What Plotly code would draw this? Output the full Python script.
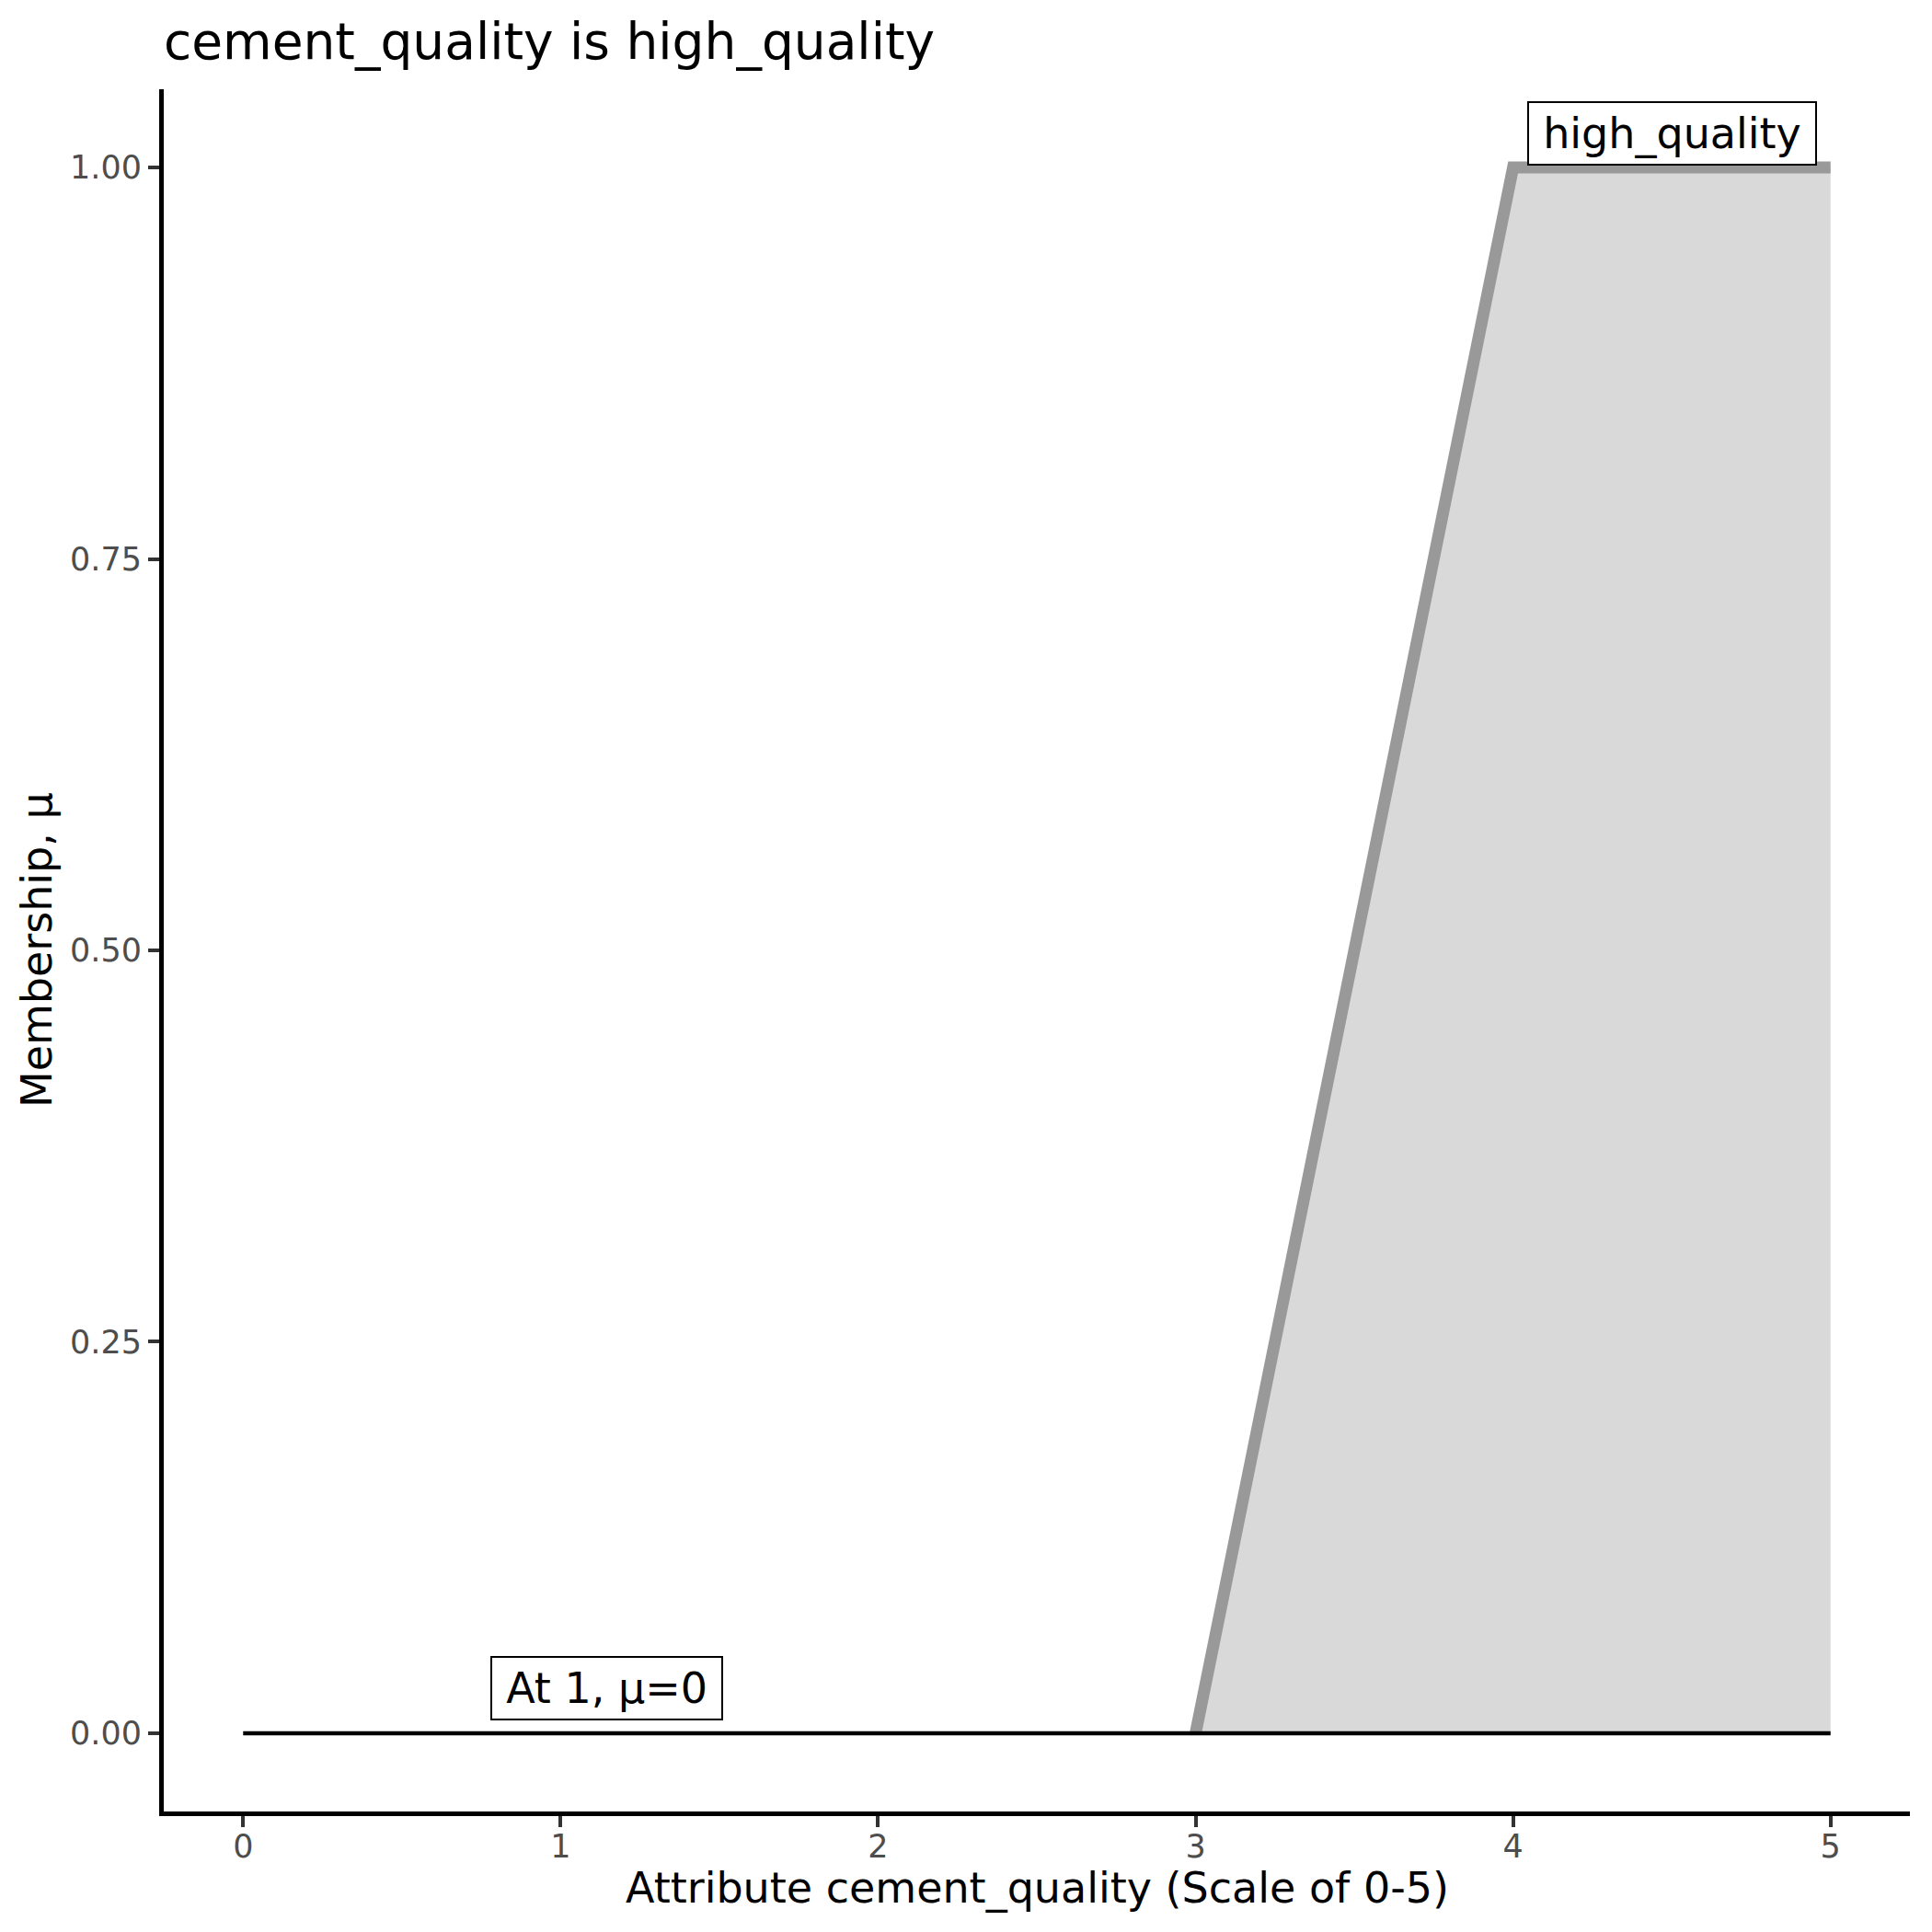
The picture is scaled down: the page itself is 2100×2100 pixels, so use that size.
import plotly.graph_objects as go

# ---- data ----
mf_x = [3, 4, 5]          # high_quality membership function breakpoints
mf_mu = [0, 1, 1]
fill_x = [3, 4, 5, 5]
fill_mu = [0, 1, 1, 0]
base_x = [0, 5]           # evaluated membership at the input (mu = 0)
base_mu = [0, 0]
x_ticks = [0, 1, 2, 3, 4, 5]
y_ticks = [0, 0.25, 0.5, 0.75, 1.0]
y_ticklabels = ["0.00", "0.25", "0.50", "0.75", "1.00"]
label_texts = ["high_quality", "At 1, μ=0"]
label_x = [4.5, 1.146]
label_y = [1.022, 0.029]

FONT = "DejaVu Sans"
TS = "\u2009"

fig = go.Figure()
fig.add_trace(go.Scatter(x=fill_x, y=fill_mu, fill="toself", fillcolor="#D9D9D9",
                         mode="lines", line=dict(width=0), hoverinfo="skip", showlegend=False))
fig.add_trace(go.Scatter(x=mf_x, y=mf_mu, mode="lines",
                         line=dict(color="#999999", width=13), showlegend=False))
fig.add_trace(go.Scatter(x=base_x, y=base_mu, mode="lines",
                         line=dict(color="black", width=4.5), showlegend=False))

for t, xx, yy in zip(label_texts, label_x, label_y):
    fig.add_annotation(x=xx, y=yy, text=TS + t + TS, showarrow=False, xanchor="center",
                       yanchor="middle", font=dict(family=FONT, size=46, color="black"),
                       bgcolor="white", bordercolor="black", borderwidth=2, borderpad=6)

# axis titles as annotations for precise placement
fig.add_annotation(x=0.5, xref="paper", y=-0.0445, yref="paper", showarrow=False,
                   text="Attribute cement_quality (Scale of 0-5)", xanchor="center", yanchor="middle",
                   font=dict(family=FONT, size=46, color="black"))
fig.add_annotation(x=-0.0727, xref="paper", y=0.5, yref="paper", showarrow=False,
                   text="Membership, μ", textangle=-90, xanchor="center", yanchor="middle",
                   font=dict(family=FONT, size=46, color="black"))

fig.update_layout(
    width=2100, height=2100, autosize=False,
    margin=dict(l=170, r=32, t=89, b=139),
    paper_bgcolor="white", plot_bgcolor="white",
    font=dict(family=FONT, color="black"),
    title=dict(text="cement_quality is high_quality", x=0, xref="paper", xanchor="left",
               y=1 - 37 / 2100, yref="container", yanchor="middle",
               font=dict(family=FONT, size=55, color="black")),
    xaxis=dict(range=[-0.25, 5.25], tickvals=x_ticks, ticks="outside", ticklen=12, tickwidth=4,
               tickcolor="#333333", showline=True, linecolor="black", linewidth=5,
               showgrid=False, zeroline=False, automargin=False, ticklabelstandoff=-9,
               tickfont=dict(family=FONT, size=35, color="#4D4D4D")),
    yaxis=dict(range=[-0.05, 1.05], tickvals=y_ticks, ticktext=y_ticklabels, ticks="outside",
               ticklen=12, tickwidth=4, tickcolor="#333333", showline=True, linecolor="black",
               linewidth=5, showgrid=False, zeroline=False, automargin=False,
               tickfont=dict(family=FONT, size=35, color="#4D4D4D")),
)

fig.write_html("out.html")
